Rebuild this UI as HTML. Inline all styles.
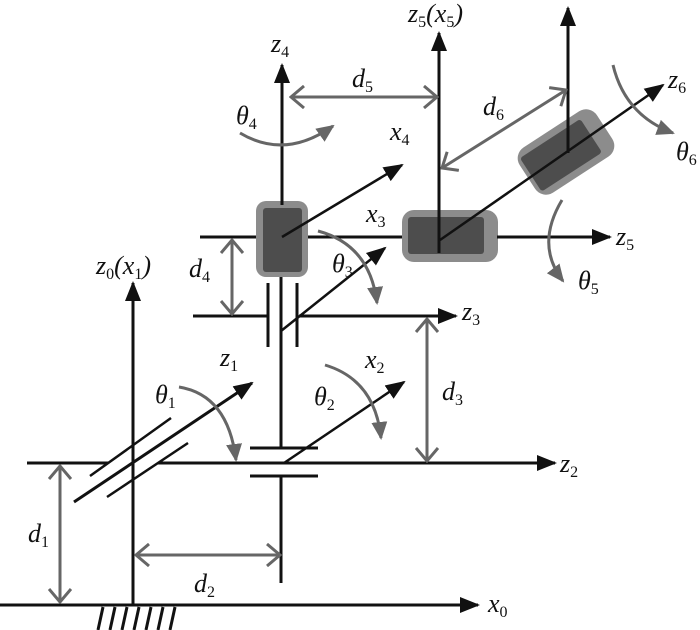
<!DOCTYPE html>
<html><head><meta charset="utf-8"><style>
html,body{margin:0;padding:0;background:#fff}
svg{display:block}
text{font-family:"Liberation Serif",serif;font-style:italic;font-size:26px;fill:#111}
tspan.s{font-style:normal;font-size:16px}
</style></head><body>
<svg width="700" height="630" viewBox="0 0 700 630" xmlns="http://www.w3.org/2000/svg">
<defs>
<marker id="ab2" markerWidth="20" markerHeight="20" refX="18" refY="10" orient="auto" markerUnits="userSpaceOnUse" viewBox="0 0 20 20"><path d="M0,2 L20,10 L0,18 z" fill="#111"/></marker>
<marker id="ag" markerWidth="18" markerHeight="18" refX="16" refY="9" orient="auto" markerUnits="userSpaceOnUse" viewBox="0 0 18 18"><path d="M0,1 L18,9 L0,17 z" fill="#666"/></marker>
<marker id="ch" markerWidth="16" markerHeight="24" refX="14" refY="12" orient="auto-start-reverse" markerUnits="userSpaceOnUse" viewBox="0 0 16 24"><path d="M1,1 L14,12 L1,23" fill="none" stroke="#666" stroke-width="3"/></marker>
</defs>
<g stroke="#111" stroke-width="3" fill="none">
<line x1="0" y1="605" x2="478" y2="605" marker-end="url(#ab2)"/>
<g><line x1="98" y1="630" x2="103" y2="607"/><line x1="110" y1="630" x2="115" y2="607"/><line x1="122" y1="630" x2="127" y2="607"/><line x1="134" y1="630" x2="139" y2="607"/><line x1="146" y1="630" x2="151" y2="607"/><line x1="158" y1="630" x2="163" y2="607"/><line x1="170" y1="630" x2="175" y2="607"/></g>
<line x1="133" y1="605" x2="133" y2="283" marker-end="url(#ab2)"/>
<line x1="27" y1="463" x2="108" y2="463"/>
<line x1="158" y1="463" x2="555" y2="463" marker-end="url(#ab2)"/>
<line x1="74" y1="502" x2="252" y2="383" marker-end="url(#ab2)"/>
<line x1="90" y1="476" x2="171" y2="418" stroke-width="2.5"/>
<line x1="107" y1="497" x2="188" y2="443" stroke-width="2.5"/>
<line x1="281" y1="583" x2="281" y2="476"/>
<line x1="281" y1="448" x2="281" y2="277"/>
<line x1="250" y1="448" x2="318" y2="448"/>
<line x1="250" y1="476" x2="318" y2="476"/>
<line x1="284" y1="463" x2="404" y2="382" stroke-width="2.5" marker-end="url(#ab2)"/>
<line x1="193" y1="316" x2="268" y2="316"/>
<line x1="299" y1="316" x2="456" y2="316" marker-end="url(#ab2)"/>
<line x1="268" y1="283" x2="268" y2="347"/>
<line x1="297" y1="283" x2="297" y2="347"/>
<line x1="281" y1="331" x2="385" y2="248" stroke-width="2.5" marker-end="url(#ab2)"/>
<line x1="200" y1="237" x2="403" y2="237"/>
</g>
<rect x="256" y="201" width="52" height="76" rx="10" fill="#8c8c8c"/>
<rect x="263" y="208" width="39" height="64" rx="3" fill="#4d4d4d"/>
<rect x="402" y="210" width="96" height="52" rx="12" fill="#8c8c8c"/>
<rect x="408" y="217" width="76" height="37" rx="3" fill="#4d4d4d"/>
<g transform="translate(566,152) rotate(-33)">
<rect x="-46" y="-27" width="92" height="54" rx="13" fill="#8c8c8c"/>
<rect x="-42" y="-20" width="72" height="40" rx="3" fill="#4d4d4d"/>
</g>
<g stroke="#111" stroke-width="3" fill="none">
<line x1="282" y1="205" x2="282" y2="65" marker-end="url(#ab2)"/>
<line x1="282" y1="237" x2="402" y2="165" stroke-width="2.5" marker-end="url(#ab2)"/>
<line x1="439" y1="253" x2="439" y2="33" marker-end="url(#ab2)"/>
<line x1="497" y1="237" x2="610" y2="237" marker-end="url(#ab2)"/>
<line x1="440" y1="240" x2="663" y2="85" stroke-width="2.5" marker-end="url(#ab2)"/>
<line x1="568" y1="153" x2="568" y2="8" marker-end="url(#ab2)"/>
</g>
<g stroke="#666" stroke-width="3" fill="none">
<line x1="60" y1="466" x2="60" y2="602" marker-start="url(#ch)" marker-end="url(#ch)"/>
<line x1="136" y1="555" x2="280" y2="555" marker-start="url(#ch)" marker-end="url(#ch)"/>
<line x1="427" y1="319" x2="427" y2="461" marker-start="url(#ch)" marker-end="url(#ch)"/>
<line x1="232" y1="240" x2="232" y2="314" marker-start="url(#ch)" marker-end="url(#ch)"/>
<line x1="291" y1="97" x2="437" y2="97" marker-start="url(#ch)" marker-end="url(#ch)"/>
<line x1="442" y1="168" x2="566" y2="90" marker-start="url(#ch)" marker-end="url(#ch)"/>
<path d="M179,387 Q228,395 236,460" marker-end="url(#ag)"/>
<path d="M325,365 Q375,380 381,438" marker-end="url(#ag)"/>
<path d="M318,231 Q370,245 377,303" marker-end="url(#ag)"/>
<path d="M240,133 Q285,160 333,126" marker-end="url(#ag)"/>
<path d="M562,200 Q535,245 563,281" marker-end="url(#ag)"/>
<path d="M613,65 Q625,115 673,133" marker-end="url(#ag)"/>
</g>
<text x="96" y="274">z<tspan class="s" dy="5">0</tspan><tspan dy="-5">(x</tspan><tspan class="s" dy="5">1</tspan><tspan dy="-5">)</tspan></text>
<text x="488" y="612">x<tspan class="s" dy="5">0</tspan></text>
<text x="560" y="472">z<tspan class="s" dy="5">2</tspan></text>
<text x="462" y="320">z<tspan class="s" dy="5">3</tspan></text>
<text x="616" y="245">z<tspan class="s" dy="5">5</tspan></text>
<text x="668" y="88">z<tspan class="s" dy="5">6</tspan></text>
<text x="271" y="52">z<tspan class="s" dy="5">4</tspan></text>
<text x="408" y="22">z<tspan class="s" dy="5">5</tspan><tspan dy="-5">(x</tspan><tspan class="s" dy="5">5</tspan><tspan dy="-5">)</tspan></text>
<text x="220" y="366">z<tspan class="s" dy="5">1</tspan></text>
<text x="365" y="368">x<tspan class="s" dy="5">2</tspan></text>
<text x="366" y="222">x<tspan class="s" dy="5">3</tspan></text>
<text x="390" y="140">x<tspan class="s" dy="5">4</tspan></text>
<text x="155" y="403">θ<tspan class="s" dy="5">1</tspan></text>
<text x="314" y="405">θ<tspan class="s" dy="5">2</tspan></text>
<text x="332" y="272">θ<tspan class="s" dy="5">3</tspan></text>
<text x="236" y="124">θ<tspan class="s" dy="5">4</tspan></text>
<text x="578" y="289">θ<tspan class="s" dy="5">5</tspan></text>
<text x="676" y="160">θ<tspan class="s" dy="5">6</tspan></text>
<text x="28" y="542">d<tspan class="s" dy="5">1</tspan></text>
<text x="194" y="592">d<tspan class="s" dy="5">2</tspan></text>
<text x="442" y="400">d<tspan class="s" dy="5">3</tspan></text>
<text x="189" y="277">d<tspan class="s" dy="5">4</tspan></text>
<text x="352" y="87">d<tspan class="s" dy="5">5</tspan></text>
<text x="483" y="115">d<tspan class="s" dy="5">6</tspan></text>
</svg>
</body></html>
